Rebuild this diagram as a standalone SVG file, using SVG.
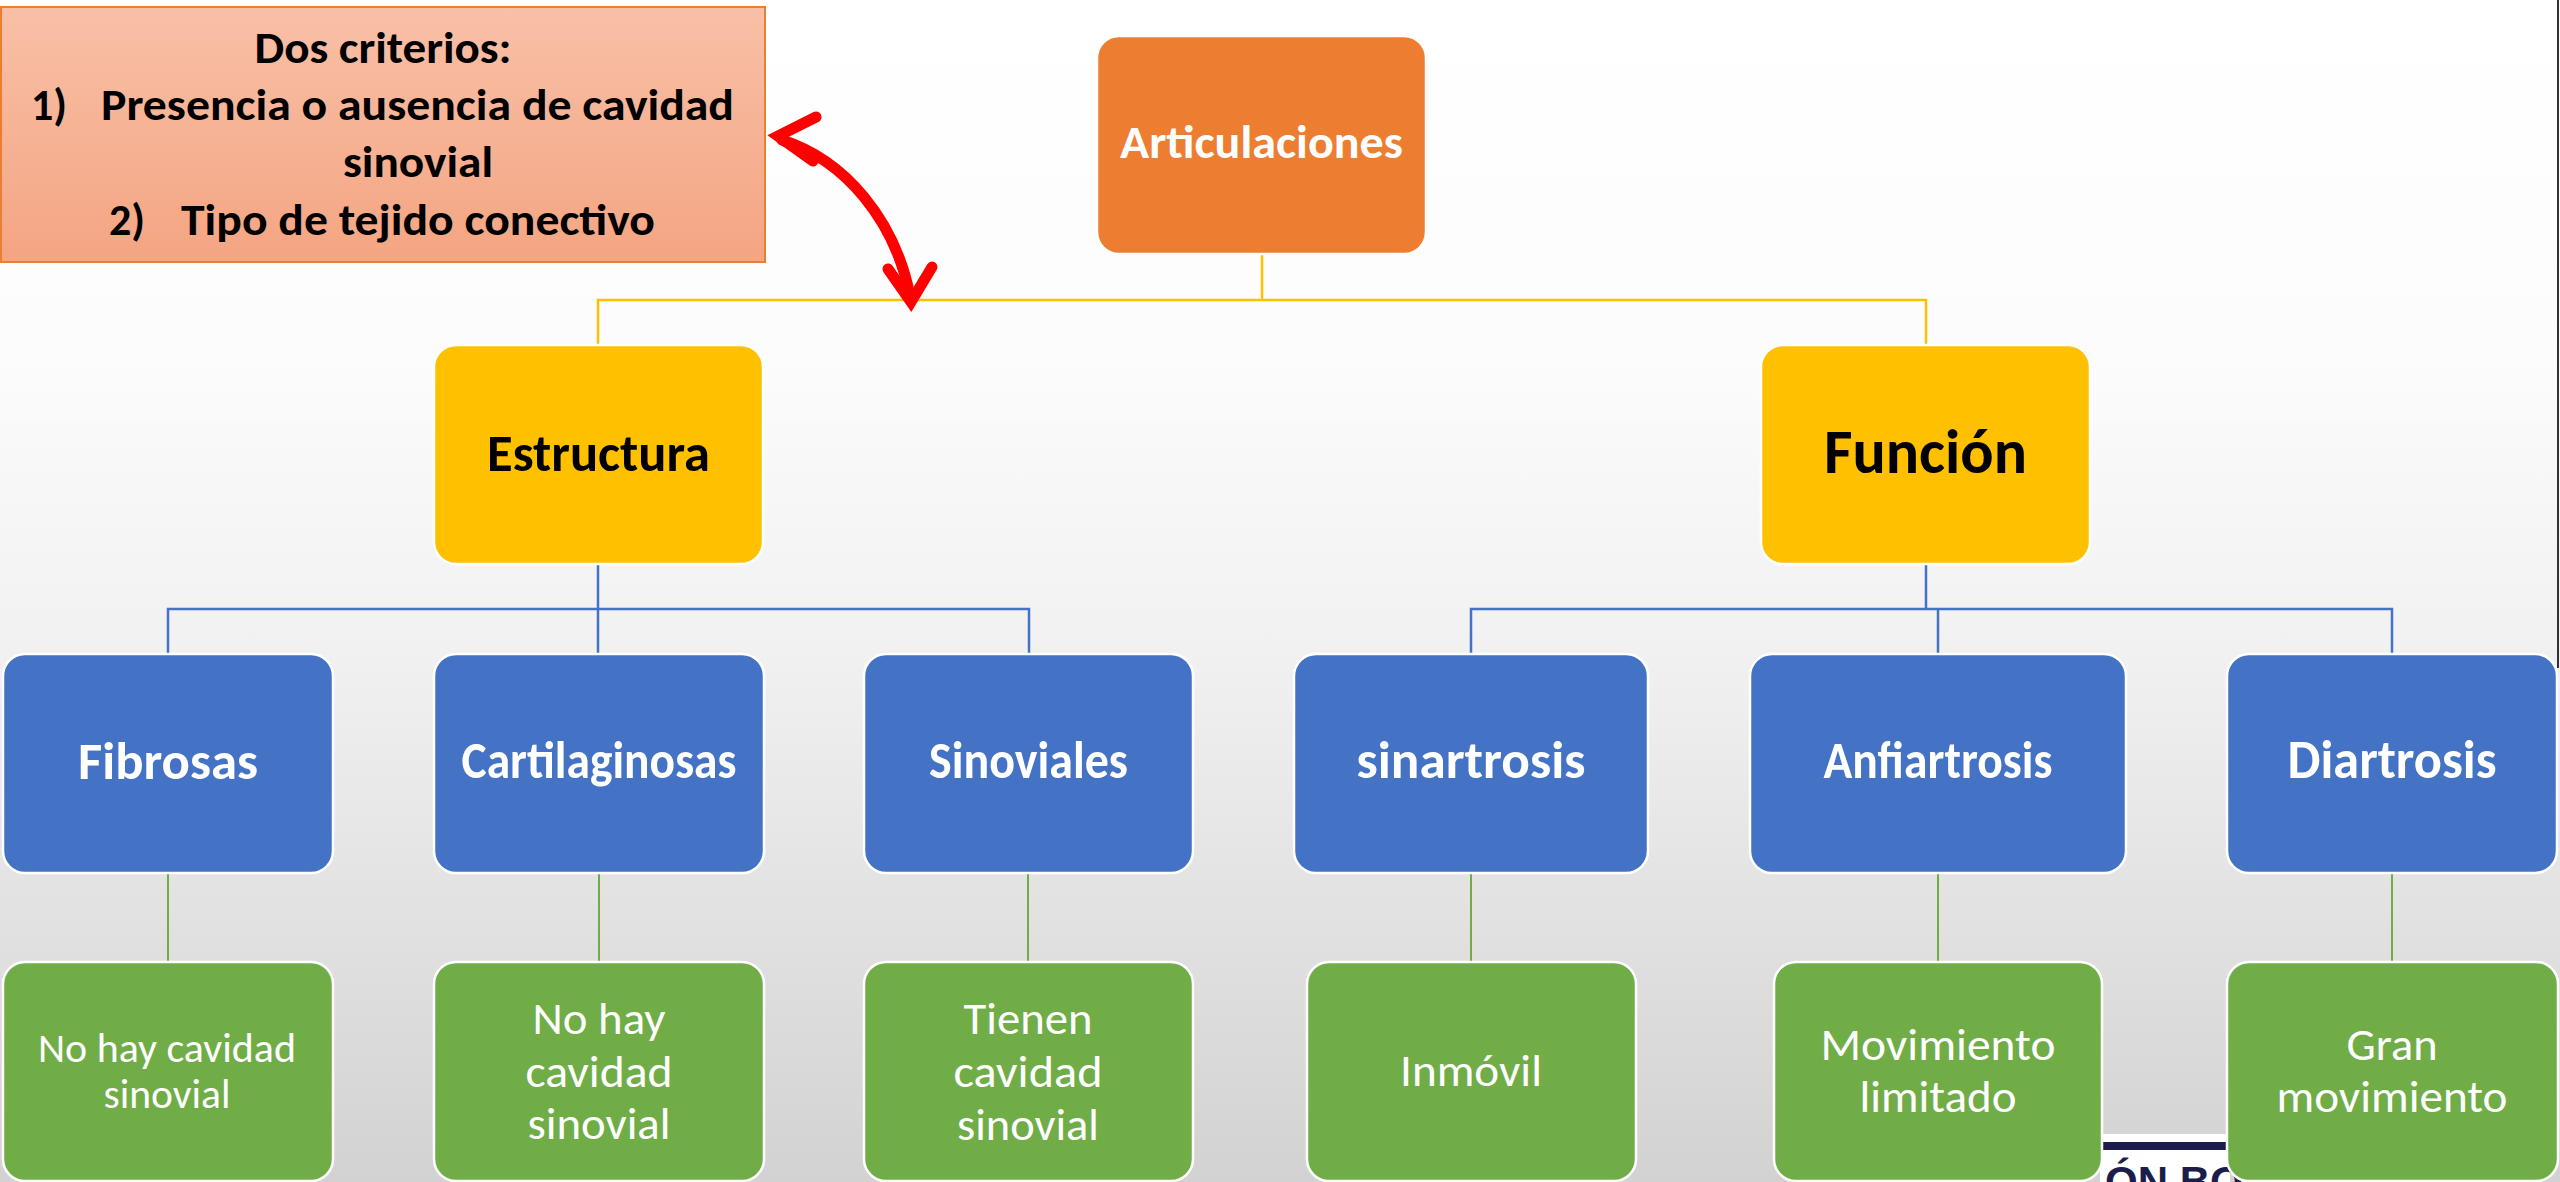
<svg xmlns="http://www.w3.org/2000/svg" width="2560" height="1182" viewBox="0 0 2560 1182">
<defs>
<linearGradient id="bg" x1="0" y1="0" x2="0" y2="1">
<stop offset="0" stop-color="#ffffff"/>
<stop offset="0.3" stop-color="#fcfcfc"/>
<stop offset="0.55" stop-color="#f1f1f1"/>
<stop offset="1" stop-color="#d2d2d2"/>
</linearGradient>
<linearGradient id="crit" x1="0" y1="0" x2="0" y2="1">
<stop offset="0" stop-color="#F8C0A7"/>
<stop offset="1" stop-color="#F4A582"/>
</linearGradient>
<style>
.box{stroke:#ffffff;stroke-width:2.5}
.org{fill:#ED7D31}
.yel{fill:#FFC000}
.blu{fill:#4472C4}
.grn{fill:#70AD47}
.t{font-family:Carlito,Lato,"Open Sans",sans-serif;text-anchor:middle}
.b{font-weight:bold}
.w{fill:#ffffff}
.k{fill:#000000}
.cy{stroke:#FFC000;stroke-width:2.5;fill:none}
.cb{stroke:#4472C4;stroke-width:2.5;fill:none}
.cg{stroke:#70AD47;stroke-width:2;fill:none}
.red{stroke:#FF0000;stroke-width:11;fill:none;stroke-linecap:round;stroke-linejoin:miter;stroke-miterlimit:10}
</style>
</defs>
<rect x="0" y="0" width="2560" height="1182" fill="url(#bg)"/>
<line x1="2558" y1="0" x2="2558" y2="668" stroke="#333333" stroke-width="2"/>
<g id="logo-fragment">
<rect x="2100" y="1134" width="130" height="48" fill="#ffffff"/>
<rect x="2103" y="1142" width="124" height="8" fill="#1c1d4a"/>
<text x="2105" y="1196" font-family="'Liberation Sans',sans-serif" font-weight="bold" font-size="42" fill="#1c1d4a">ÓN BO</text>
</g>
<g id="connectors">
<path class="cy" d="M1262,254 V300 M598,345 V300 H1926 V345"/>
<path class="cb" d="M598,564 V609 M168,654 V609 H1029 V654 M598,609 V654"/>
<path class="cb" d="M1926,564 V609 M1471,654 V609 H2392 V654 M1938,609 V654"/>
<path class="cg" d="M168,873 V962 M599,873 V962 M1028,873 V962 M1471,873 V962 M1938,873 V962 M2392,873 V962"/>
</g>
<g id="criterios">
<rect x="1" y="7" width="764" height="255" fill="url(#crit)" stroke="#ED7D31" stroke-width="2"/>
<text class="t b k" font-size="44" x="383" y="63" textLength="257" lengthAdjust="spacingAndGlyphs">Dos criterios:</text>
<text class="t b k" font-size="44" x="31" y="120" style="text-anchor:start">1)</text>
<text class="t b k" font-size="44" x="101" y="120" style="text-anchor:start" textLength="633" lengthAdjust="spacingAndGlyphs">Presencia o ausencia de cavidad</text>
<text class="t b k" font-size="44" x="418" y="177" textLength="150" lengthAdjust="spacingAndGlyphs">sinovial</text>
<text class="t b k" font-size="44" x="109" y="235" style="text-anchor:start">2)</text>
<text class="t b k" font-size="44" x="181" y="235" style="text-anchor:start" textLength="474" lengthAdjust="spacingAndGlyphs">Tipo de tejido conectivo</text>
</g>
<g id="arrow">
<path class="red" d="M782,140 C845,160 895,220 910,296"/>
<polyline class="red" points="816,117 778,136 813,161"/>
<polyline class="red" points="888,269 911,302 932,267"/>
</g>
<g id="articulaciones">
<rect class="box org" x="1097" y="36" width="329" height="218" rx="22"/>
<text class="t b w" font-size="47" x="1261.5" y="158" textLength="283" lengthAdjust="spacingAndGlyphs">Articulaciones</text>
</g>
<g id="estructura">
<rect class="box yel" x="434" y="345" width="329" height="219" rx="22"/>
<text class="t b k" font-size="53" x="598.5" y="471" textLength="223" lengthAdjust="spacingAndGlyphs">Estructura</text>
</g>
<g id="funcion">
<rect class="box yel" x="1761" y="345" width="329" height="219" rx="22"/>
<text class="t b k" font-size="62" x="1925.5" y="473" textLength="203" lengthAdjust="spacingAndGlyphs">Función</text>
</g>
<g id="fibrosas">
<rect class="box blu" x="3" y="654" width="330" height="219" rx="22"/>
<text class="t b w" font-size="52" x="168" y="779" textLength="180" lengthAdjust="spacingAndGlyphs">Fibrosas</text>
</g>
<g id="cartilaginosas">
<rect class="box blu" x="434" y="654" width="330" height="219" rx="22"/>
<text class="t b w" font-size="52" x="599" y="778" textLength="275" lengthAdjust="spacingAndGlyphs">Cartilaginosas</text>
</g>
<g id="sinoviales">
<rect class="box blu" x="864" y="654" width="329" height="219" rx="22"/>
<text class="t b w" font-size="52" x="1028.5" y="778" textLength="199" lengthAdjust="spacingAndGlyphs">Sinoviales</text>
</g>
<g id="sinartrosis">
<rect class="box blu" x="1294" y="654" width="354" height="219" rx="22"/>
<text class="t b w" font-size="52" x="1471" y="778" textLength="229" lengthAdjust="spacingAndGlyphs">sinartrosis</text>
</g>
<g id="anfiartrosis">
<rect class="box blu" x="1750" y="654" width="376" height="219" rx="22"/>
<text class="t b w" font-size="52" x="1938" y="778" textLength="229" lengthAdjust="spacingAndGlyphs">Anfiartrosis</text>
</g>
<g id="diartrosis">
<rect class="box blu" x="2227" y="654" width="330" height="219" rx="22"/>
<text class="t b w" font-size="54" x="2392" y="778" textLength="209" lengthAdjust="spacingAndGlyphs">Diartrosis</text>
</g>
<g id="fibrosas-desc">
<rect class="box grn" x="3" y="962" width="330" height="219" rx="22"/>
<text class="t w" font-size="40" x="167" y="1062" textLength="258" lengthAdjust="spacingAndGlyphs">No hay cavidad</text>
<text class="t w" font-size="40" x="167" y="1108" textLength="127" lengthAdjust="spacingAndGlyphs">sinovial</text>
</g>
<g id="cartilaginosas-desc">
<rect class="box grn" x="434" y="962" width="330" height="219" rx="22"/>
<text class="t w" font-size="46" x="599" y="1034" textLength="133" lengthAdjust="spacingAndGlyphs">No hay</text>
<text class="t w" font-size="46" x="599" y="1087" textLength="147" lengthAdjust="spacingAndGlyphs">cavidad</text>
<text class="t w" font-size="46" x="599" y="1139" textLength="143" lengthAdjust="spacingAndGlyphs">sinovial</text>
</g>
<g id="sinoviales-desc">
<rect class="box grn" x="864" y="962" width="329" height="219" rx="22"/>
<text class="t w" font-size="46" x="1028" y="1034" textLength="129" lengthAdjust="spacingAndGlyphs">Tienen</text>
<text class="t w" font-size="46" x="1028" y="1087" textLength="149" lengthAdjust="spacingAndGlyphs">cavidad</text>
<text class="t w" font-size="46" x="1028" y="1140" textLength="142" lengthAdjust="spacingAndGlyphs">sinovial</text>
</g>
<g id="sinartrosis-desc">
<rect class="box grn" x="1307" y="962" width="329" height="219" rx="22"/>
<text class="t w" font-size="46" x="1471" y="1086" textLength="142" lengthAdjust="spacingAndGlyphs">Inmóvil</text>
</g>
<g id="anfiartrosis-desc">
<rect class="box grn" x="1774" y="962" width="328" height="219" rx="22"/>
<text class="t w" font-size="46" x="1938" y="1060" textLength="235" lengthAdjust="spacingAndGlyphs">Movimiento</text>
<text class="t w" font-size="46" x="1938" y="1112" textLength="157" lengthAdjust="spacingAndGlyphs">limitado</text>
</g>
<g id="diartrosis-desc">
<rect class="box grn" x="2227" y="962" width="331" height="219" rx="22"/>
<text class="t w" font-size="46" x="2392" y="1060" textLength="91" lengthAdjust="spacingAndGlyphs">Gran</text>
<text class="t w" font-size="46" x="2392" y="1112" textLength="231" lengthAdjust="spacingAndGlyphs">movimiento</text>
</g>
</svg>
